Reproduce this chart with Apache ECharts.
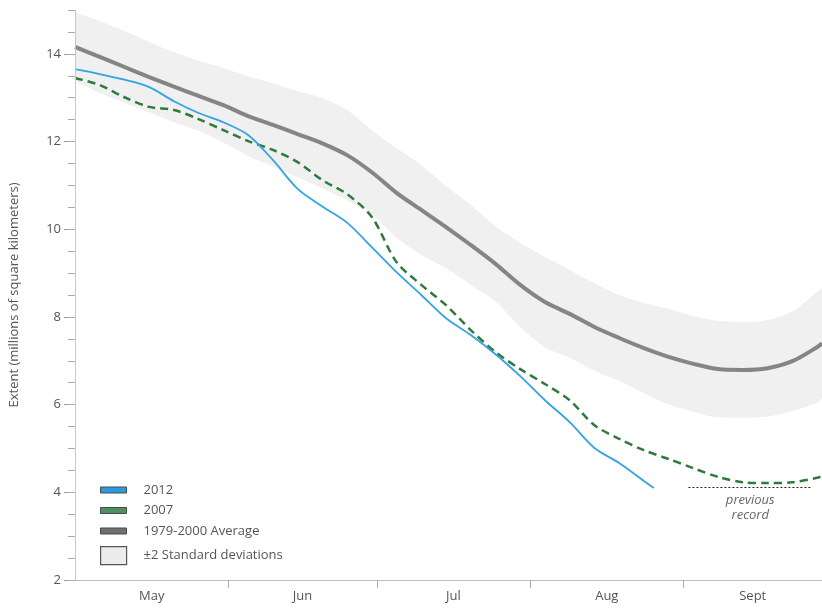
<!DOCTYPE html>
<html>
<head>
<meta charset="utf-8">
<title>Arctic sea ice extent</title>
<script src="https://cdn.jsdelivr.net/npm/echarts@6/dist/echarts.min.js"></script>
<style>
  html, body { margin: 0; padding: 0; background: #fff; }
  #chart { width: 822px; height: 609px; }
</style>
</head>
<body>
<div id="chart"></div>
<script>
// Days counted from May 1
const days = [0, 5, 10, 15, 20, 25, 30, 35, 40, 45, 50, 55, 60, 65, 70, 75,
  80, 85, 90, 95, 100, 105, 110, 115, 120, 125, 130, 135, 140, 145, 150, 151];

// 1979-2000 average extent (millions of km²)
const avgExtent = [14.16, 13.93, 13.70, 13.47, 13.25, 13.04, 12.83, 12.58, 12.38, 12.17,
  11.96, 11.69, 11.30, 10.83, 10.44, 10.05, 9.64, 9.21, 8.73, 8.34, 8.07, 7.77, 7.52,
  7.29, 7.09, 6.93, 6.81, 6.79, 6.83, 6.99, 7.31, 7.40];

// ±2 standard deviation envelope
const bandUpper = [14.95, 14.75, 14.52, 14.27, 14.04, 13.84, 13.68, 13.49, 13.33, 13.15,
  12.99, 12.72, 12.26, 11.85, 11.46, 10.99, 10.55, 10.07, 9.69, 9.37, 9.07, 8.77, 8.50,
  8.32, 8.18, 8.02, 7.91, 7.88, 7.93, 8.13, 8.57, 8.66];
const bandLower = [13.37, 13.11, 12.88, 12.67, 12.44, 12.24, 11.98, 11.67, 11.43, 11.19,
  10.93, 10.66, 10.34, 9.81, 9.42, 9.11, 8.73, 8.35, 7.77, 7.31, 7.07, 6.77, 6.54,
  6.26, 6.00, 5.84, 5.71, 5.70, 5.73, 5.85, 6.05, 6.14];

// 2007 season
const extent2007 = [13.45, 13.29, 13.01, 12.79, 12.72, 12.51, 12.26, 12.01, 11.81, 11.53,
  11.12, 10.80, 10.28, 9.25, 8.73, 8.27, 7.70, 7.20, 6.81, 6.47, 6.10, 5.53, 5.22,
  4.96, 4.76, 4.55, 4.35, 4.23, 4.21, 4.23, 4.33, 4.37];

// 2012 season (through mid-August)
const days2012 = [0, 5, 10, 15, 20, 25, 30, 35, 40, 45, 50, 55, 60, 65, 70, 75,
  80, 85, 90, 95, 100, 105, 110, 115, 117];
const extent2012 = [13.65, 13.54, 13.41, 13.24, 12.92, 12.65, 12.44, 12.15, 11.58, 10.92,
  10.52, 10.15, 9.59, 9.02, 8.50, 7.97, 7.59, 7.15, 6.65, 6.10, 5.60, 5.01, 4.67,
  4.26, 4.10];

// Previous record minimum and the stretch of days it is marked across
const recordValue = 4.12;
const recordSpan = [124, 149];

// Month boundaries (days from May 1) and month names
const monthStarts = [0, 31, 61, 92, 123];
const axisEnd = 151;
const monthNames = ['May', 'Jun', 'Jul', 'Aug', 'Sept'];
const yTickLabels = [2, 4, 6, 8, 10, 12, 14];

const pairs = (xs, ys) => xs.map((x, i) => [x, ys[i]]);
const monthMids = monthStarts.map((s, i) =>
  (s + (i + 1 < monthStarts.length ? monthStarts[i + 1] : axisEnd)) / 2);

const FONT = '"Open Sans", "DejaVu Sans", sans-serif';
const TEXT = '#555';
const BAND = '#f0f0f0';

const chart = echarts.init(document.getElementById('chart'), null, { renderer: 'canvas' });

chart.setOption({
  animation: false,
  textStyle: { fontFamily: FONT },
  grid: { left: 72, right: 0, top: 10, bottom: 29, containLabel: false },
  xAxis: {
    type: 'value',
    min: 0,
    max: axisEnd,
    z: 10,
    axisLine: { show: true, lineStyle: { color: '#bdbdbd', width: 1 } },
    axisTick: {
      show: true,
      length: 8,
      customValues: monthStarts.slice(1),
      lineStyle: { color: '#aaa' }
    },
    axisLabel: {
      customValues: monthMids,
      formatter: v => {
        const i = monthMids.findIndex(m => Math.abs(m - v) < 0.01);
        return i >= 0 ? monthNames[i] : '';
      },
      color: TEXT,
      fontSize: 13,
      margin: 10,
      fontFamily: FONT
    },
    splitLine: { show: false }
  },
  yAxis: [
    {
      type: 'value',
      min: 2,
      max: 15,
      z: 10,
      name: 'Extent (millions of square kilometers)',
      nameLocation: 'middle',
      nameGap: 54,
      nameTextStyle: { color: TEXT, fontSize: 13, fontFamily: FONT },
      axisLine: { show: true, lineStyle: { color: '#c8c8c8', width: 1 } },
      axisTick: {
        show: true,
        length: 11,
        customValues: yTickLabels,
        lineStyle: { color: '#999' }
      },
      axisLabel: {
        customValues: yTickLabels,
        color: TEXT,
        fontSize: 13,
        margin: 14,
        fontFamily: FONT
      },
      splitLine: { show: false }
    },
    {
      // half-unit minor ticks
      type: 'value',
      min: 2,
      max: 15,
      interval: 0.5,
      position: 'left',
      z: 10,
      axisLine: { show: false },
      axisTick: { show: true, length: 7, lineStyle: { color: '#aaa' } },
      axisLabel: { show: false },
      splitLine: { show: false }
    }
  ],
  legend: [
    {
      left: 95,
      top: 478,
      orient: 'vertical',
      selectedMode: false,
      icon: 'rect',
      itemWidth: 26,
      itemHeight: 6,
      itemGap: 6.5,
      textStyle: { color: TEXT, fontSize: 13, lineHeight: 14, fontFamily: FONT, padding: [0, 0, 0, 12] },
      data: [
        { name: '2012', itemStyle: { color: '#2a9be0', borderColor: '#4a4a4a', borderWidth: 1, borderType: 'solid' } },
        { name: '2007', itemStyle: { color: '#4e9160', borderColor: '#4a4a4a', borderWidth: 1, borderType: 'solid' } },
        { name: '1979-2000 Average', itemStyle: { color: '#707070', borderColor: '#4a4a4a', borderWidth: 1, borderType: 'solid' } }
      ]
    },
    {
      left: 95,
      top: 541,
      orient: 'vertical',
      selectedMode: false,
      icon: 'rect',
      itemWidth: 26,
      itemHeight: 18,
      textStyle: { color: TEXT, fontSize: 13, fontFamily: FONT, padding: [0, 0, 0, 12] },
      data: [
        { name: '±2 Standard deviations', itemStyle: { color: '#ececec', borderColor: '#555', borderWidth: 1.2 } }
      ]
    }
  ],
  series: [
    {
      // envelope: grey fill from the upper edge down ...
      name: '±2 Standard deviations',
      type: 'line',
      data: pairs(days, bandUpper),
      symbol: 'none',
      smooth: 0.3,
      lineStyle: { opacity: 0 },
      areaStyle: { color: BAND, opacity: 1, origin: 'start' },
      itemStyle: { color: '#ececec' },
      silent: true,
      z: 1
    },
    {
      // ... cleared again below the lower edge
      name: 'band-lower',
      type: 'line',
      data: pairs(days, bandLower),
      symbol: 'none',
      smooth: 0.3,
      lineStyle: { opacity: 0 },
      areaStyle: { color: '#ffffff', opacity: 1, origin: 'start' },
      silent: true,
      z: 1.5
    },
    {
      name: '1979-2000 Average',
      type: 'line',
      data: pairs(days, avgExtent),
      symbol: 'none',
      smooth: 0.3,
      lineStyle: { color: '#858585', width: 4 },
      itemStyle: { color: '#707070' },
      z: 3
    },
    {
      name: '2007',
      type: 'line',
      data: pairs(days, extent2007),
      symbol: 'none',
      smooth: 0.3,
      lineStyle: { color: '#2f7a3e', width: 2.5, type: [8, 5] },
      itemStyle: { color: '#4e9160' },
      z: 4,
      markLine: {
        silent: true,
        symbol: ['none', 'none'],
        lineStyle: { color: '#222', width: 1, type: [2, 2] },
        label: {
          show: true,
          position: 'insideMiddleBottom',
          distance: 6,
          formatter: 'previous\nrecord',
          color: '#666',
          fontSize: 13,
          fontStyle: 'italic',
          lineHeight: 15,
          fontFamily: FONT
        },
        emphasis: { disabled: true },
        data: [[
          { coord: [recordSpan[0], recordValue] },
          { coord: [recordSpan[1], recordValue] }
        ]]
      }
    },
    {
      name: '2012',
      type: 'line',
      data: pairs(days2012, extent2012),
      symbol: 'none',
      smooth: 0.3,
      lineStyle: { color: '#33a4e2', width: 1.8 },
      itemStyle: { color: '#2a9be0' },
      z: 5
    }
  ]
});
</script>
</body>
</html>
